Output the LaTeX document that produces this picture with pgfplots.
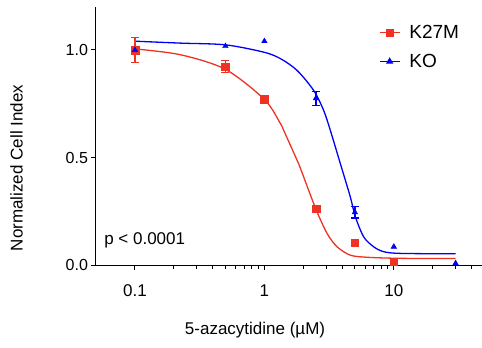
\documentclass[border=0pt]{standalone}
\usepackage{fontspec}
\setmainfont{Liberation Sans}
\usepackage{pgfplots}
\pgfplotsset{compat=1.18}
\definecolor{cred}{RGB}{238,50,36}
\definecolor{cblue}{RGB}{0,0,250}

\begin{document}
\begin{tikzpicture}
\begin{axis}[
  name=ax,
  scale only axis, width=386pt, height=258pt,
  xmode=log, log basis x=10,
  xmin=0.05, xmax=48, ymin=0, ymax=1.2,
  axis lines=left,
  axis line style={-, line width=1pt, black},
  xtick={0.1,1,10}, xticklabels={0.1,1,10},
  minor xtick={0.2,0.3,0.4,0.5,0.6,0.7,0.8,0.9,2,3,4,5,6,7,8,9,20,30,40},
  ytick={0,0.5,1}, yticklabels={0.0,0.5,1.0},
  tick align=outside,
  major tick length=4.5pt, minor tick length=3.5pt,
  tick style={black, line width=1pt},
  /pgf/number format/assume math mode=true,
  xticklabel style={font=\fontsize{17}{20}\selectfont, yshift=-12pt},
  yticklabel style={font=\fontsize{16}{19}\selectfont},
  xlabel={5-azacytidine (µM)},
  ylabel={Normalized Cell Index},
  xlabel style={font=\fontsize{17}{20}\selectfont, at={(axis description cs:0.412,-0.271)}, anchor=base},
  ylabel style={font=\fontsize{17}{20}\selectfont, at={(axis description cs:-0.206,0.376)}, anchor=center, rotate=0},
  legend style={draw=none, fill=none, at={(axis description cs:0.725,0.945)}, anchor=north west,
    font=\fontsize{19}{22}\selectfont, row sep=10pt},
  legend cell align=left,
  legend image code/.code={\draw[#1, mark repeat=2, mark phase=2] plot coordinates {(0cm,0cm) (0.35cm,0cm) (0.7cm,0cm)}; \path (0.95cm,0cm);},
  clip=false,
]
% fitted curves
\addplot[cblue, line width=1.3pt, smooth, forget plot] coordinates {
 (0.1,1.041) (0.2245,1.032) (0.5,1.024) (0.988,0.99) (1.329,0.96) (1.789,0.905)
 (2.403,0.812) (2.87,0.719) (3.233,0.626) (3.86,0.472) (4.61,0.317) (5.04,0.225)
 (5.85,0.131) (6.98,0.085) (8.34,0.062) (11.2,0.054) (30,0.052)};
\addplot[cred, line width=1.3pt, smooth, forget plot] coordinates {
 (0.1,1.005) (0.2245,0.978) (0.5,0.91) (1,0.77) (1.33,0.658) (1.41,0.626)
 (1.79,0.487) (1.9,0.449) (2.5,0.26) (3.05,0.147) (3.64,0.085) (4.6,0.046)
 (6.2,0.036) (11.2,0.031) (30,0.03)};
% K27M data
\addplot[cred, only marks, mark=square*, mark size=3.8pt, forget plot,
  error bars/.cd, y dir=both, y explicit,
  error bar style={line width=1.3pt},
  error mark options={rotate=90, mark size=4pt, line width=1.3pt}]
  table[x=x, y=y, y error=e] {
  x y e
  0.1 1.0 0.059
  0.5 0.922 0.028
};
\addplot[cred, only marks, mark=square*, mark size=3.8pt, forget plot] coordinates {
 (1,0.77) (2.5,0.261) (5,0.104) (10,0.015)};
% KO data
\addplot[cblue, only marks, mark=triangle*, mark size=3.2pt, forget plot,
  error bars/.cd, y dir=both, y explicit,
  error bar style={line width=1.3pt},
  error mark options={rotate=90, mark size=4pt, line width=1.3pt}]
  table[x=x, y=y, y error=e] {
  x y e
  2.5 0.775 0.033
  5 0.245 0.027
};
\addplot[cblue, only marks, mark=triangle*, mark size=3.2pt, forget plot] coordinates {
 (0.1,1.0) (0.5,1.018) (1,1.041) (10,0.085) (30,0.008)};
\addlegendimage{cred, line width=1.3pt, mark=square*, mark size=3.5pt}
\addlegendentry{K27M}
\addlegendimage{cblue, line width=1.3pt, mark=triangle*, mark size=3pt}
\addlegendentry{KO}
\node[anchor=west, font=\fontsize{17}{20}\selectfont, inner sep=0pt] at (axis description cs:0.021,0.097) {p < 0.0001};
\end{axis}
\pgfresetboundingbox
\path[use as bounding box] ([shift={(-96pt,-83pt)}]ax.south west) rectangle ([shift={(0pt,7pt)}]ax.north east);
\end{tikzpicture}
\end{document}
